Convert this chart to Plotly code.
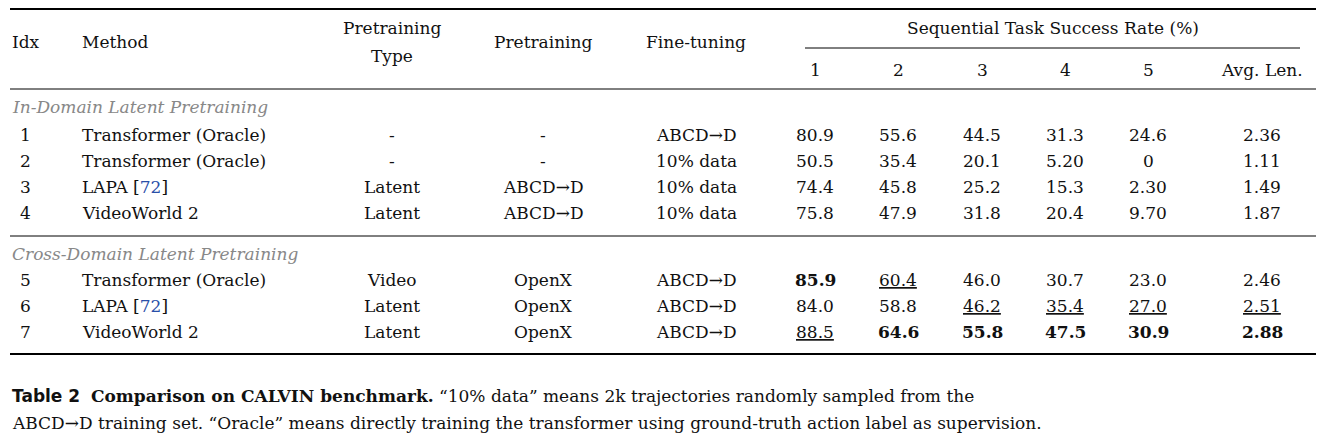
import plotly.graph_objects as go

idx = ["1", "2", "3", "4", "5", "6", "7"]
methods = ["Transformer (Oracle)", "Transformer (Oracle)", "LAPA [72]", "VideoWorld 2",
           "Transformer (Oracle)", "LAPA [72]", "VideoWorld 2"]
pre_type = ["-", "-", "Latent", "Latent", "Video", "Latent", "Latent"]
pretrain = ["-", "-", "ABCD→D", "ABCD→D", "OpenX", "OpenX", "OpenX"]
finetune = ["ABCD→D", "10% data", "10% data", "10% data", "ABCD→D", "ABCD→D", "ABCD→D"]
sr1 = ["80.9", "50.5", "74.4", "75.8", "85.9", "84.0", "88.5"]
sr2 = ["55.6", "35.4", "45.8", "47.9", "60.4", "58.8", "64.6"]
sr3 = ["44.5", "20.1", "25.2", "31.8", "46.0", "46.2", "55.8"]
sr4 = ["31.3", "5.20", "15.3", "20.4", "30.7", "35.4", "47.5"]
sr5 = ["24.6", "0", "2.30", "9.70", "23.0", "27.0", "30.9"]
avg = ["2.36", "1.11", "1.49", "1.87", "2.46", "2.51", "2.88"]
# style per cross-domain cell: b = best, u = second
styles = {
    (4, 0): "b", (6, 0): "u",
    (4, 1): "u", (6, 1): "b",
    (5, 2): "u", (6, 2): "b",
    (5, 3): "u", (6, 3): "b",
    (5, 4): "u", (6, 4): "b",
    (5, 5): "u", (6, 5): "b",
}
section_titles = ["In-Domain Latent Pretraining", "Cross-Domain Latent Pretraining"]

FONT = "DejaVu Serif"
FS = 17
OX, OY = -8, -8
row_y = [135, 161, 187, 213, 280, 306, 332]
col_x = [815, 898, 982, 1065, 1148, 1262]

fig = go.Figure()
ann = []

def T(x, y, text, anchor="center", size=FS, color="#111", family=FONT):
    ann.append(dict(x=x + OX, y=y + OY, xref="x", yref="y", text=text, showarrow=False,
                    xanchor=anchor, yanchor="middle",
                    font=dict(family=family, size=size, color=color)))

T(10, 42, "Idx", "left")
T(80, 42, "Method", "left")
T(392, 28, "Pretraining")
T(392, 56, "Type")
T(543, 42, "Pretraining")
T(696, 42, "Fine-tuning")
T(1053, 28, "Sequential Task Success Rate (%)")
for x, h in zip(col_x, ["1", "2", "3", "4", "5", "Avg. Len."]):
    T(x, 70, h)

T(10, 107, "<i>" + section_titles[0] + "</i>", "left", color="#888")
T(10, 254, "<i>" + section_titles[1] + "</i>", "left", color="#888")

for r in range(7):
    y = row_y[r]
    T(25, y, idx[r])
    m = methods[r].replace("[72]", "[<span style='color:#2a4fa8'>72</span>]")
    T(80, y, m, "left")
    T(392, y, pre_type[r])
    T(543, y, pretrain[r])
    T(696, y, finetune[r])
    for c, col in enumerate([sr1, sr2, sr3, sr4, sr5, avg]):
        v = col[r]
        s = styles.get((r, c))
        if s == "b":
            v = "<b>" + v + "</b>"
        elif s == "u":
            v = "<span style='text-decoration:underline'>" + v + "</span>"
        T(col_x[c], y, v)

T(10, 396, "<span style='font-family:DejaVu Sans'><b>Table 2</b></span>  <b>Comparison on CALVIN benchmark.</b> “10% data” means 2k trajectories randomly sampled from the", "left")
T(10, 423, "ABCD→D training set. “Oracle” means directly training the transformer using ground-truth action label as supervision.", "left")

shapes = []
def L(x0, x1, y, w):
    shapes.append(dict(type="line", xref="x", yref="y", x0=x0 + OX, x1=x1 + OX, y0=y + OY, y1=y + OY,
                       line=dict(color="black", width=w)))
L(10, 1316, 9, 2)
L(805, 1300, 48, 1)
L(10, 1316, 89, 1)
L(10, 1316, 236, 1)
L(10, 1316, 354, 2)

fig.update_layout(width=1326, height=447, margin=dict(l=0, r=0, t=0, b=0),
                  plot_bgcolor="white", paper_bgcolor="white",
                  annotations=ann, shapes=shapes,
                  xaxis=dict(range=[0, 1326], visible=False, fixedrange=True),
                  yaxis=dict(range=[447, 0], visible=False, fixedrange=True))
fig.write_html("out.html")
